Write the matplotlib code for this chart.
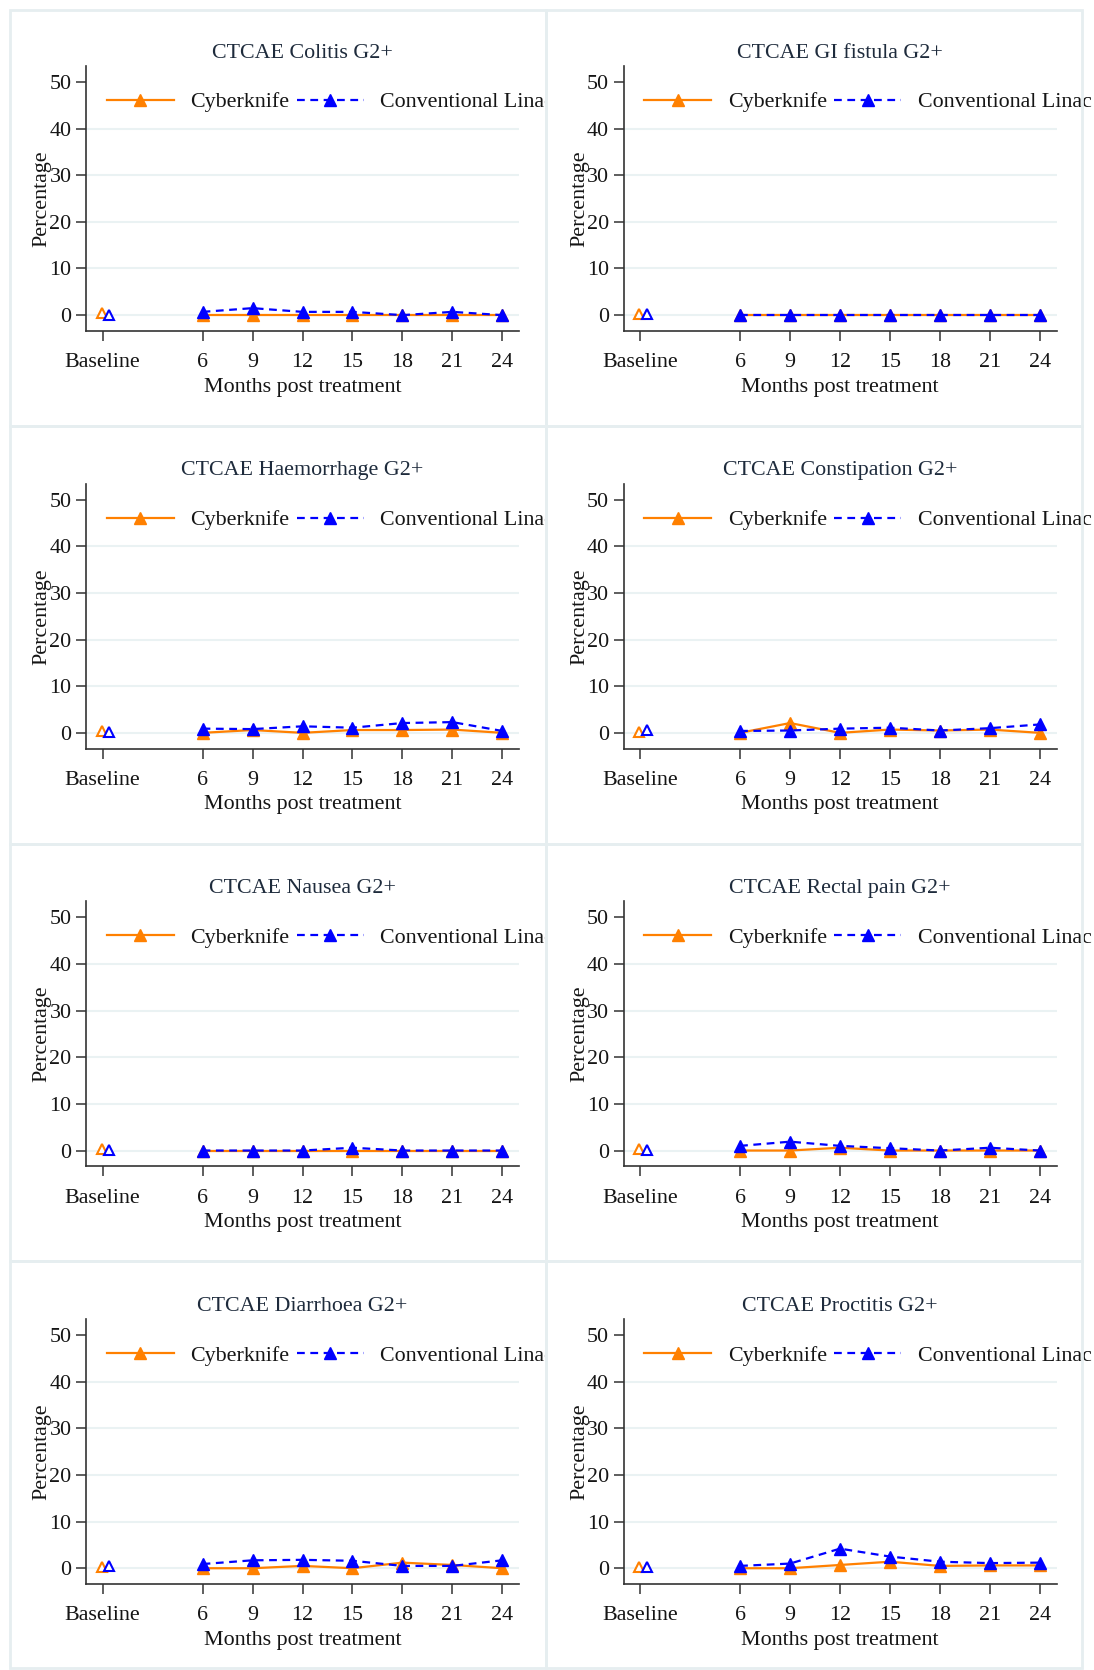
import matplotlib
matplotlib.use('Agg')
import matplotlib.pyplot as plt
from matplotlib.transforms import Bbox, TransformedBbox

plt.rcParams['font.family'] = ['Liberation Serif', 'DejaVu Serif']

# data
months = [6, 9, 12, 15, 18, 21, 24]
xtick_pos = [0, 6, 9, 12, 15, 18, 21, 24]
xtick_labels = ['Baseline', '6', '9', '12', '15', '18', '21', '24']

titles = ['CTCAE Colitis G2+', 'CTCAE GI fistula G2+',
          'CTCAE Haemorrhage G2+', 'CTCAE Constipation G2+',
          'CTCAE Nausea G2+', 'CTCAE Rectal pain G2+',
          'CTCAE Diarrhoea G2+', 'CTCAE Proctitis G2+']

# baseline values (Cyberknife, Conventional Linac)
base_ck = [0.5, 0.3, 0.3, 0.2, 0.3, 0.3, 0.3, 0.3]
base_li = [0.0, 0.3, 0.2, 0.6, 0.2, 0.2, 0.5, 0.2]

# follow-up values, months 6..24
colitis_ck = [0, 0, 0, 0, 0, 0, 0]
colitis_li = [0.7, 1.5, 0.7, 0.7, 0, 0.7, 0]
fistula_ck = [0, 0, 0, 0, 0, 0, 0]
fistula_li = [0, 0, 0, 0, 0, 0, 0]
haem_ck = [0, 0.6, 0, 0.6, 0.6, 0.7, 0]
haem_li = [0.9, 0.8, 1.4, 1.1, 2.1, 2.3, 0.4]
const_ck = [0, 2.1, 0, 0.7, 0.5, 0.7, 0]
const_li = [0.4, 0.5, 0.9, 1.1, 0.5, 1.0, 1.8]
nausea_ck = [0, 0, 0, 0, 0, 0, 0]
nausea_li = [0, 0, 0, 0.6, 0, 0, 0]
rectal_ck = [0, 0, 0.6, 0, 0, 0, 0]
rectal_li = [1.0, 1.9, 1.0, 0.5, 0, 0.6, 0]
diar_ck = [0, 0, 0.5, 0, 1.2, 0.7, 0]
diar_li = [0.9, 1.7, 1.8, 1.6, 0.5, 0.5, 1.7]
proct_ck = [0, 0, 0.7, 1.4, 0.5, 0.6, 0.6]
proct_li = [0.5, 1.0, 4.2, 2.5, 1.4, 1.1, 1.2]

ck_series = [colitis_ck, fistula_ck, haem_ck, const_ck, nausea_ck, rectal_ck, diar_ck, proct_ck]
li_series = [colitis_li, fistula_li, haem_li, const_li, nausea_li, rectal_li, diar_li, proct_li]

orange = '#ff8000'
blue = '#0000ff'
txt = '#151515'
fs = 15.8

W, H = 1094, 1670
fig = plt.figure(figsize=(W / 100, H / 100), dpi=100)

def fig_box(x0, y0, x1, y1):
    # pixel box (top-left origin) -> figure fraction
    return [x0 / W, 1 - y1 / H, (x1 - x0) / W, (y1 - y0) / H]

# light panel frames
col_edges = [10, 546, 1082]
row_edges = [10, 426, 844, 1261, 1668]
for r in range(4):
    for c in range(2):
        b = fig_box(col_edges[c], row_edges[r], col_edges[c + 1], row_edges[r + 1])
        fig.add_artist(plt.Rectangle((b[0], b[1]), b[2], b[3], transform=fig.transFigure,
                                     fill=False, edgecolor='#e6eef0', lw=2))

for i, title in enumerate(titles):
    r, c = divmod(i, 2)
    left = 86 + c * 537.5
    top = 66 + r * 417.7
    ax = fig.add_axes(fig_box(left, top, left + 433, top + 265))

    ax.plot(months, ck_series[i], color=orange, lw=1.6, marker='^', ms=8,
            label='Cyberknife', zorder=3)
    ax.plot(months, li_series[i], color=blue, lw=1.6, ls=(0, (3.5, 2.5)), marker='^', ms=8,
            label='Conventional Linac', zorder=4)
    ax.plot([-0.05], [base_ck[i]], marker='^', ms=7.5, mfc='white', mec=orange, mew=1.5,
            ls='none', zorder=3)
    ax.plot([0.4], [base_li[i]], marker='^', ms=7.5, mfc='white', mec=blue, mew=1.5,
            ls='none', zorder=4)

    ax.set_xlim(-1, 25)
    ax.set_ylim(-3.4, 53.4)
    ax.set_yticks([0, 10, 20, 30, 40, 50])
    ax.set_xticks(xtick_pos, xtick_labels)
    ax.grid(axis='y', color='#eaf2f3', lw=1.5)
    ax.get_ygridlines()[-1].set_visible(False)
    ax.set_axisbelow(True)

    for s in ['top', 'right']:
        ax.spines[s].set_visible(False)
    for s in ['left', 'bottom']:
        ax.spines[s].set_color('#333333')
        ax.spines[s].set_linewidth(1.2)
    ax.tick_params(axis='both', length=7, width=1.1, color='#333333',
                   labelsize=fs, labelcolor=txt)
    ax.tick_params(axis='x', pad=9)
    ax.tick_params(axis='y', pad=3.5)

    ax.set_title(title, fontsize=fs, color='#1e2b3c', pad=6)
    ax.set_xlabel('Months post treatment', fontsize=fs, color=txt, labelpad=4)
    ax.set_ylabel('Percentage', fontsize=fs, color=txt, va='center')
    ax.yaxis.set_label_coords(-0.101, 0.5)

    leg = ax.legend(loc='center left', bbox_to_anchor=(0.048, 0.863), ncol=2,
                    frameon=False, fontsize=fs, handlelength=3.05, handletextpad=0.75,
                    columnspacing=0.35, borderpad=0, borderaxespad=0)
    for t in leg.get_texts():
        t.set_color(txt)
        if c == 0:
            clip = TransformedBbox(Bbox.from_extents(*[0, 0, 545 / W, 1]), fig.transFigure)
            t.set_clip_box(clip)
            t.set_clip_on(True)

fig.savefig('out.png', dpi=100)
